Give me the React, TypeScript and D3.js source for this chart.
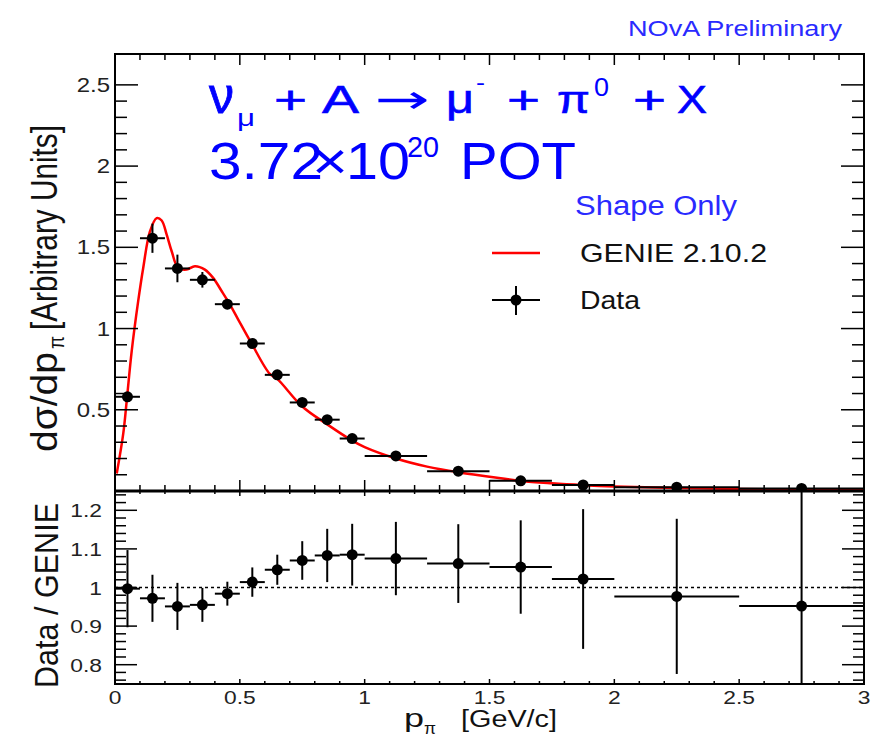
import React from 'react';
import * as d3 from 'd3';

// ---- data ----
const binCenters = [0.05, 0.15, 0.25, 0.35, 0.45, 0.55, 0.65, 0.75, 0.85, 0.95, 1.125, 1.375, 1.625, 1.875, 2.25, 2.75];
const binHalfWidths = [0.05, 0.05, 0.05, 0.05, 0.05, 0.05, 0.05, 0.05, 0.05, 0.05, 0.125, 0.125, 0.125, 0.125, 0.25, 0.25];
const dataValues = [0.58, 1.556, 1.37, 1.3, 1.15, 0.908, 0.715, 0.545, 0.439, 0.323, 0.216, 0.122, 0.063, 0.037, 0.023, 0.016];
const dataErrors = [0.02, 0.09, 0.085, 0.048, 0.03, 0.02, 0.015, 0.012, 0.01, 0.01, 0.008, 0.006, 0.005, 0.005, 0.004, 0.004];
const ratioValues = [0.997, 0.972, 0.951, 0.955, 0.984, 1.014, 1.046, 1.07, 1.083, 1.085, 1.075, 1.062, 1.053, 1.022, 0.977, 0.952];
const ratioErrors = [0.1, 0.061, 0.061, 0.044, 0.031, 0.038, 0.039, 0.05, 0.069, 0.08, 0.095, 0.102, 0.121, 0.181, 0.201, 0.4];
const genieX = [0.007, 0.033, 0.047, 0.067, 0.093, 0.113, 0.14, 0.167, 0.187, 0.207, 0.227, 0.253, 0.287, 0.32, 0.36, 0.393, 0.427, 0.46, 0.493, 0.547, 0.62, 0.65, 0.75, 0.85, 0.95, 1.0, 1.125, 1.25, 1.375, 1.5, 1.625, 1.75, 1.875, 2.0, 2.25, 2.5, 2.75, 3.0];
const genieY = [0.108, 0.353, 0.557, 0.863, 1.17, 1.373, 1.598, 1.68, 1.665, 1.578, 1.476, 1.373, 1.363, 1.384, 1.363, 1.312, 1.231, 1.149, 1.057, 0.908, 0.721, 0.69, 0.52, 0.41, 0.31, 0.27, 0.2, 0.15, 0.115, 0.088, 0.062, 0.047, 0.036, 0.028, 0.019, 0.013, 0.009, 0.006];
const topYTicks = [0.5, 1, 1.5, 2, 2.5];
const bottomYTicks = [0.8, 0.9, 1, 1.1, 1.2];
const xTicks = [0, 0.5, 1, 1.5, 2, 2.5, 3];
const xTickLabels = ['0', '0.5', '1', '1.5', '2', '2.5', '3'];

// ---- layout ----
const W = 877, H = 740;
const PL = 115, PR = 864, TOP = 54, MID = 491, BOT = 684;
const FONT = "'Liberation Sans', Arial, Helvetica, sans-serif";
const SX = 1.2;
const BLUE = '#0000ff';

const x = d3.scaleLinear().domain([0, 3]).range([PL, PR]);
const yTop = d3.scaleLinear().domain([0, 2.69]).range([MID, TOP]);
const yBot = d3.scaleLinear().domain([0.75, 1.25]).range([BOT, MID]);

const near = (v: number, step: number) => Math.abs(v / step - Math.round(v / step)) < 1e-6;

function T({ x, y, fs, anchor = 'start', fill = '#000', children }: any) {
  return (
    <text transform={`translate(${x},${y}) scale(${SX},1)`} fontSize={fs} textAnchor={anchor} fill={fill} fontFamily={FONT}>
      {children}
    </text>
  );
}

function Tok({ x, y, fs, w, fill = BLUE, family = FONT, sw = 0, children }: any) {
  return (
    <text x={x} y={y} fontSize={fs} textLength={w} lengthAdjust="spacingAndGlyphs" fill={fill} fontFamily={family}
      stroke={sw ? fill : 'none'} strokeWidth={sw}>
      {children}
    </text>
  );
}

export default function App() {
  const line = d3.line<number>().x((_, i) => x(genieX[i])).y((d) => yTop(d)).curve(d3.curveCatmullRom.alpha(0.5));

  const ticks: JSX.Element[] = [];
  d3.range(0, 26).map((i) => i / 10).forEach((v, i) => {
    const major = near(v, 0.5);
    const L = major ? 23 : 12;
    const yy = yTop(v);
    ticks.push(<line key={`tl${i}`} x1={PL} x2={PL + L} y1={yy} y2={yy} />);
    ticks.push(<line key={`tr${i}`} x1={PR} x2={PR - L} y1={yy} y2={yy} />);
  });
  d3.range(38, 63).map((i) => i / 50).forEach((v, i) => {
    const major = near(v, 0.1);
    const L = major ? 22 : 11;
    const yy = yBot(v);
    ticks.push(<line key={`bl${i}`} x1={PL} x2={PL + L} y1={yy} y2={yy} />);
    ticks.push(<line key={`br${i}`} x1={PR} x2={PR - L} y1={yy} y2={yy} />);
  });
  d3.range(0, 31).map((i) => i / 10).forEach((v, i) => {
    const major = near(v, 0.5);
    const xx = x(v);
    const Lt = major ? 11 : 6;
    ticks.push(<line key={`xt${i}`} x1={xx} x2={xx} y1={TOP} y2={TOP + Lt} />);
    ticks.push(<line key={`xm${i}`} x1={xx} x2={xx} y1={MID} y2={MID - Lt} />);
    const Lb = major ? 5 : 3;
    ticks.push(<line key={`xb${i}`} x1={xx} x2={xx} y1={MID} y2={MID + Lb} />);
    ticks.push(<line key={`xbb${i}`} x1={xx} x2={xx} y1={BOT} y2={BOT - Lb} />);
  });

  return (
    <svg width={W} height={H} style={{ position: 'absolute', left: 0, top: 0, background: '#fff' }}>
      <defs>
        <clipPath id="clipTop"><rect x={PL} y={TOP} width={PR - PL} height={MID - TOP} /></clipPath>
        <clipPath id="clipBot"><rect x={PL} y={MID} width={PR - PL} height={BOT - MID} /></clipPath>
      </defs>
      <rect x={0} y={0} width={W} height={H} fill="#fff" />

      <Tok x={628} y={36} fs={22} w={214} fill="#2a2aff">NOvA Preliminary</Tok>

      <g clipPath="url(#clipTop)">
        <path d={line(genieY) || ''} fill="none" stroke="#ff0000" strokeWidth={2.5} />
        {binCenters.map((c, i) => (
          <g key={`d${i}`} stroke="#000" strokeWidth={2}>
            <line x1={x(c - binHalfWidths[i])} x2={x(c + binHalfWidths[i])} y1={yTop(dataValues[i])} y2={yTop(dataValues[i])} />
            <line x1={x(c)} x2={x(c)} y1={yTop(dataValues[i] - dataErrors[i])} y2={yTop(dataValues[i] + dataErrors[i])} />
            <circle cx={x(c)} cy={yTop(dataValues[i])} r={5.5} fill="#000" stroke="none" />
          </g>
        ))}
      </g>

      <g clipPath="url(#clipBot)">
        <line x1={PL} x2={PR} y1={yBot(1)} y2={yBot(1)} stroke="#000" strokeWidth={1.6} strokeDasharray="3,3" />
        {binCenters.map((c, i) => (
          <g key={`r${i}`} stroke="#000" strokeWidth={2}>
            <line x1={x(c - binHalfWidths[i])} x2={x(c + binHalfWidths[i])} y1={yBot(ratioValues[i])} y2={yBot(ratioValues[i])} />
            <line x1={x(c)} x2={x(c)} y1={yBot(ratioValues[i] - ratioErrors[i])} y2={yBot(ratioValues[i] + ratioErrors[i])} />
            <circle cx={x(c)} cy={yBot(ratioValues[i])} r={5.5} fill="#000" stroke="none" />
          </g>
        ))}
      </g>

      <g stroke="#000" strokeWidth={1.5}>{ticks}</g>
      <rect x={PL} y={TOP} width={PR - PL} height={MID - TOP} fill="none" stroke="#000" strokeWidth={2} />
      <rect x={PL} y={MID} width={PR - PL} height={BOT - MID} fill="none" stroke="#000" strokeWidth={2} />
      <line x1={PL} x2={PR} y1={MID} y2={MID} stroke="#000" strokeWidth={3} />

      {topYTicks.map((v) => (
        <T key={`ty${v}`} x={110} y={yTop(v) + 7} fs={20} anchor="end" fill="#222">{String(v)}</T>
      ))}
      {bottomYTicks.map((v) => (
        <T key={`by${v}`} x={102} y={yBot(v) + 7} fs={19} anchor="end" fill="#222">{String(v)}</T>
      ))}
      {xTicks.map((v, i) => (
        <T key={`xl${v}`} x={x(v)} y={704} fs={19} anchor="middle" fill="#222">{xTickLabels[i]}</T>
      ))}

      <Tok x={404} y={727} fs={26} w={20} fill="#111">p</Tok>
      <Tok x={424} y={734} fs={16} w={12} fill="#111">π</Tok>
      <Tok x={461} y={727} fs={23} w={96} fill="#111">[GeV/c]</Tok>

      <g transform={`translate(57,452) scale(1.2,1) rotate(-90)`}>
        <text x={0} y={0} fontSize={30} textLength={100} lengthAdjust="spacingAndGlyphs" fill="#111" fontFamily={FONT}>dσ/dp</text>
        <text x={103} y={6} fontSize={19} fill="#111" fontFamily={FONT}>π</text>
        <text x={122} y={0} fontSize={30} textLength={205} lengthAdjust="spacingAndGlyphs" fill="#111" fontFamily={FONT}>[Arbitrary Units]</text>
      </g>
      <g transform={`translate(58,688) scale(1.2,1) rotate(-90)`}>
        <text x={0} y={0} fontSize={28} textLength={185} lengthAdjust="spacingAndGlyphs" fill="#111" fontFamily={FONT}>Data / GENIE</text>
      </g>

      {/* title line 1 */}
      <Tok x={209} y={113} fs={52} w={25} sw={0.8}>ν</Tok>
      <Tok x={237} y={126} fs={24} w={18}>μ</Tok>
      <Tok x={274} y={113} fs={39} w={33} sw={0.6}>+</Tok>
      <Tok x={322} y={113} fs={39} w={37} sw={0.6}>A</Tok>
      <Tok x={375} y={113} fs={40} w={55} family="'DejaVu Sans', sans-serif">→</Tok>
      <Tok x={446} y={113} fs={40} w={28} sw={0.6}>μ</Tok>
      <Tok x={476} y={90} fs={22} w={9}>-</Tok>
      <Tok x={507} y={113} fs={39} w={33} sw={0.6}>+</Tok>
      <Tok x={557} y={113} fs={39} w={33} sw={0.6}>π</Tok>
      <Tok x={594} y={96} fs={25} w={15}>0</Tok>
      <Tok x={633} y={113} fs={39} w={33} sw={0.6}>+</Tok>
      <Tok x={677} y={113} fs={39} w={30} sw={0.6}>X</Tok>

      {/* title line 2 */}
      <Tok x={209} y={179} fs={52} w={114}>3.72</Tok>
      <Tok x={312} y={179} fs={52} w={36}>×</Tok>
      <Tok x={346} y={179} fs={52} w={64}>10</Tok>
      <Tok x={407} y={157} fs={30} w={32}>20</Tok>
      <Tok x={460} y={179} fs={52} w={116}>POT</Tok>

      {/* legend */}
      <Tok x={575} y={215} fs={27} w={162} fill="#2a2aff">Shape Only</Tok>
      <line x1={492} x2={540} y1={253} y2={253} stroke="#ff0000" strokeWidth={2.5} />
      <Tok x={580} y={262} fs={26} w={187} fill="#111">GENIE 2.10.2</Tok>
      <g stroke="#000" strokeWidth={2}>
        <line x1={492} x2={540} y1={300} y2={300} />
        <line x1={516} x2={516} y1={286} y2={315} />
        <circle cx={516} cy={300} r={5.5} fill="#000" stroke="none" />
      </g>
      <Tok x={580} y={309} fs={26} w={60} fill="#111">Data</Tok>
    </svg>
  );
}
